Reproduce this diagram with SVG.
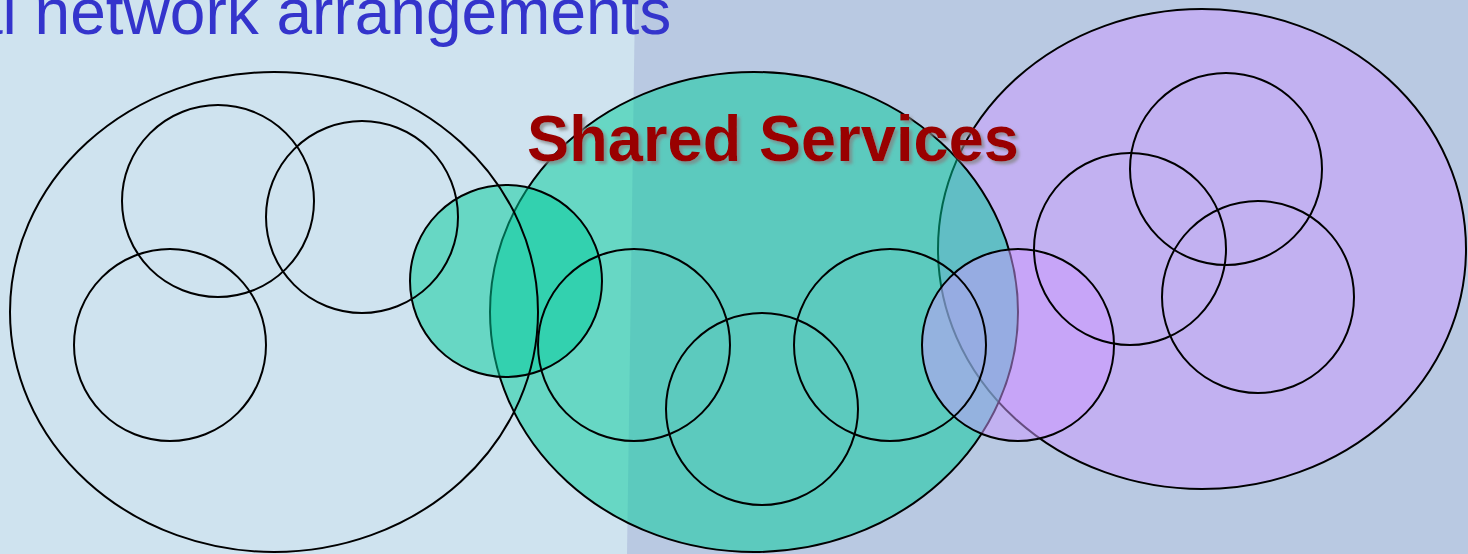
<svg xmlns="http://www.w3.org/2000/svg" width="1468" height="554" viewBox="0 0 1468 554">
<style>
.ring{fill:none;stroke:#000;stroke-width:2}
.teal{fill:#00cc99;fill-opacity:0.5;stroke:#000;stroke-width:2}
.purple{fill:#cc99ff;fill-opacity:0.5;stroke:#000;stroke-width:2}
.title{font-family:"Liberation Sans",Arial,sans-serif;font-size:64px;fill:#3434cc}
.label{font-family:"Liberation Sans",Arial,sans-serif;font-size:64px;font-weight:bold;fill:#990000}
</style>
<defs>
<filter id="shadow" x="-5%" y="-20%" width="110%" height="150%">
<feDropShadow dx="3" dy="3" stdDeviation="1.5" flood-color="#808080" flood-opacity="0.7"/>
</filter>
</defs>
<g id="background">
<rect x="0" y="0" width="1468" height="554" fill="#b9c9e2"/>
<polygon points="0,0 635,0 627,554 0,554" fill="#cfe3ef"/>
</g>
<text id="title" class="title" x="-33" y="34">al network arrangements</text>
<g id="right-group">
<ellipse id="right-area" class="purple" cx="1202" cy="249" rx="264" ry="240"/>
</g>
<g id="shared-services">
<ellipse id="shared-area" class="teal" cx="754" cy="312" rx="264" ry="240"/>
<circle id="shared-left" class="teal" cx="506" cy="281" r="96"/>
<circle id="shared-right" class="purple" cx="1018" cy="345" r="96"/>
<circle id="shared-a" class="ring" cx="634" cy="345" r="96"/>
<circle id="shared-b" class="ring" cx="762" cy="409" r="96"/>
<circle id="shared-c" class="ring" cx="890" cy="345" r="96"/>
</g>
<g id="left-group">
<ellipse id="left-area" class="ring" cx="274" cy="312" rx="264" ry="240"/>
<circle id="left-a" class="ring" cx="218" cy="201" r="96"/>
<circle id="left-b" class="ring" cx="362" cy="217" r="96"/>
<circle id="left-c" class="ring" cx="170" cy="345" r="96"/>
</g>
<g id="right-circles">
<circle id="right-a" class="ring" cx="1226" cy="169" r="96"/>
<circle id="right-b" class="ring" cx="1130" cy="249" r="96"/>
<circle id="right-c" class="ring" cx="1258" cy="297" r="96"/>
</g>
<text id="shared-label" class="label" x="527" y="161" textLength="492" lengthAdjust="spacingAndGlyphs" filter="url(#shadow)">Shared Services</text>
<g id="connectors"/>
</svg>
